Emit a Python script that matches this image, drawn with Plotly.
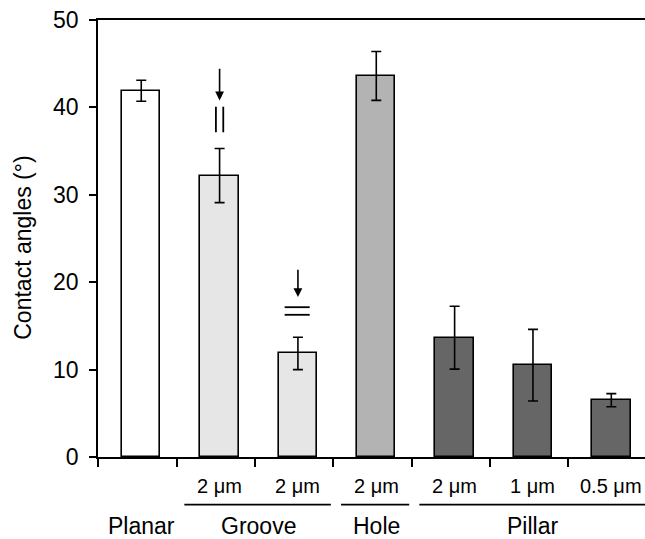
import plotly.graph_objects as go

# ---- data ----
sizes = ["", "2 μm", "2 μm", "2 μm", "2 μm", "1 μm", "0.5 μm"]
groups = ["Planar", "Groove", "Groove", "Hole", "Pillar", "Pillar", "Pillar"]
angles = [41.9, 32.2, 11.85, 43.6, 13.65, 10.5, 6.5]
errors = [1.2, 3.1, 1.85, 2.8, 3.6, 4.1, 0.75]
bar_colors = ["#ffffff", "#e6e6e6", "#e6e6e6", "#b3b3b3", "#666666", "#666666", "#666666"]
y_ticks = [0, 10, 20, 30, 40, 50]
y_title = "Contact angles (°)"

# break marks (category index, arrow tail, arrow tip, mark lower, mark upper, orientation)
breaks = [
    (1, 44.6, 40.8, 37.15, 40.08, "v"),
    (2, 21.6, 18.3, 16.27, 17.14, "h"),
]

FONT = "Liberation Sans, Arial, sans-serif"
x_idx = list(range(len(angles)))

fig = go.Figure()
fig.add_trace(go.Bar(
    x=x_idx, y=angles, width=0.49,
    marker=dict(color=bar_colors, line=dict(color="black", width=1.6)),
    error_y=dict(type="data", array=errors, visible=True, color="black",
                 thickness=1.6, width=5),
    showlegend=False,
))

# ---- annotations: size labels ----
ann = []
for i, s in enumerate(sizes):
    if s:
        ann.append(dict(x=i, y=-0.067, xref="x", yref="paper", text=s, showarrow=False,
                        font=dict(size=20, family=FONT, color="black"), yanchor="middle"))

# group labels & underlines
group_spans = {}
for i, g in enumerate(groups):
    group_spans.setdefault(g, []).append(i)
shapes = []
for g, idxs in group_spans.items():
    c = sum(idxs) / len(idxs)
    ann.append(dict(x=c, y=-0.159, xref="x", yref="paper", text=g, showarrow=False,
                    font=dict(size=23, family=FONT, color="black"), yanchor="middle"))
    if g != "Planar":
        x0 = min(idxs) - 0.45
        x1 = max(idxs) + 0.42 if g != "Pillar" else max(idxs) + 0.5
        shapes.append(dict(type="line", xref="x", yref="paper", x0=x0, x1=x1,
                           y0=-0.109, y1=-0.109, line=dict(color="black", width=1.8)))

# y-axis title
ann.append(dict(x=-0.137, y=0.479, xref="paper", yref="paper", text=y_title,
                textangle=-90, showarrow=False, xanchor="center", yanchor="middle",
                font=dict(size=23, family=FONT, color="black")))

# arrows and break marks
for (ci, tail, tip, lo, hi, orient) in breaks:
    ann.append(dict(x=ci, y=tip, xref="x", yref="y", ax=ci, ay=tail, axref="x", ayref="y",
                    text="", showarrow=True, arrowhead=2, arrowsize=1.1, arrowwidth=1.6,
                    arrowcolor="black"))
    if orient == "v":
        for dx in (-0.047, 0.047):
            shapes.append(dict(type="line", xref="x", yref="y", x0=ci + dx, x1=ci + dx,
                               y0=lo, y1=hi, line=dict(color="black", width=1.8)))
    else:
        for yy in (lo, hi):
            shapes.append(dict(type="line", xref="x", yref="y", x0=ci - 0.17, x1=ci + 0.15,
                               y0=yy, y1=yy, line=dict(color="black", width=1.8)))

fig.update_layout(
    width=645, height=539,
    margin=dict(l=98, r=0, t=20, b=82),
    plot_bgcolor="white", paper_bgcolor="white",
    font=dict(family=FONT, color="black"),
    annotations=ann, shapes=shapes,
    bargap=0,
)
fig.update_xaxes(
    range=[-0.552, 6.43], showgrid=False, zeroline=False,
    showline=True, linecolor="black", linewidth=1.8, mirror=True,
    tickmode="array", tickvals=[k + 0.45 for k in range(-1, 6)], ticktext=[""] * 7,
    ticks="outside", ticklen=8, tickwidth=1.6, tickcolor="black",
)
fig.update_yaxes(
    range=[0, 50], showgrid=False, zeroline=False,
    showline=True, linecolor="black", linewidth=1.8,
    tickmode="array", tickvals=y_ticks,
    ticks="outside", ticklen=7, tickwidth=1.6, tickcolor="black",
    tickfont=dict(size=23, family=FONT, color="black"),
    ticklabelstandoff=6,
)

fig.write_html(
    "out.html",
    config={"displayModeBar": False},
    post_script="document.body.style.margin='0';document.body.style.overflow='hidden';",
)
